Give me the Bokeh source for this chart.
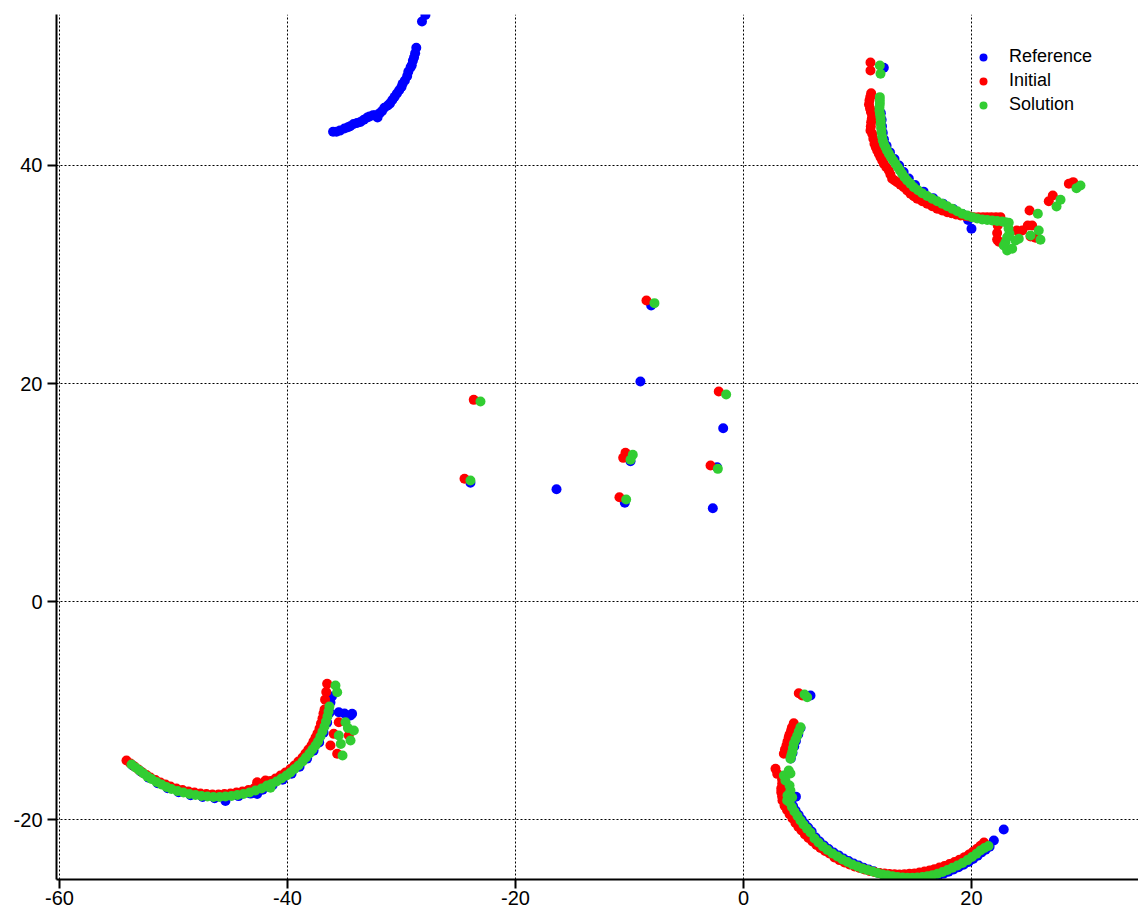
from bokeh.plotting import figure
from bokeh.models import Range1d, Legend, LegendItem, FixedTicker
from bokeh.embed import file_html
from bokeh.resources import INLINE

# ---------------------------------------------------------------------------
# Point sets, as (x, y) pairs, grouped by series and by region of the plane
# ---------------------------------------------------------------------------

# Reference (blue)
ref_arc_nw = [(-27.9, 53.8), (-28.2, 53.2), (-28.7, 50.8), (-28.8, 50.3), (-28.9, 49.9),
              (-29.0, 49.6), (-29.1, 49.2), (-29.2, 49.0), (-29.4, 48.6), (-29.5, 48.2),
              (-29.7, 47.8), (-29.9, 47.5), (-30.0, 47.2), (-30.2, 46.9), (-30.4, 46.6),
              (-30.6, 46.3), (-30.8, 46.0), (-31.0, 45.7), (-31.2, 45.5), (-31.5, 45.3),
              (-31.7, 45.0), (-31.9, 44.8), (-32.1, 44.4), (-32.3, 44.6), (-32.5, 44.6),
              (-32.8, 44.5), (-33.0, 44.4), (-33.3, 44.2), (-33.6, 44.0), (-33.9, 43.9),
              (-34.2, 43.8), (-34.5, 43.6), (-34.7, 43.5), (-35.0, 43.4), (-35.4, 43.2),
              (-35.7, 43.1), (-36.0, 43.1)]
ref_arc_ne = [(12.31, 48.96), (12.05, 44.8), (12.12, 44.2), (12.15, 43.6), (12.22, 43.0),
              (12.32, 42.4), (12.55, 41.8), (12.85, 41.2), (13.25, 40.6), (13.65, 40.0),
              (14.05, 39.4), (14.5, 38.8), (15.05, 38.2), (15.8, 37.6), (16.65, 37.0),
              (17.5, 36.5), (18.4, 36.0), (19.2, 35.55), (19.7, 35.0), (20.0, 34.2)]
ref_center = [(-8.10, 27.16), (-9.04, 20.18), (-1.78, 15.90), (-9.91, 12.87), (-2.31, 12.32),
              (-23.95, 10.89), (-16.40, 10.30), (-10.41, 9.06), (-2.69, 8.56)]
ref_arc_sw = [(-53.58, -15.05), (-52.88, -15.60), (-52.18, -16.16), (-51.39, -16.66),
              (-50.51, -17.12), (-49.55, -17.49), (-48.50, -17.76), (-47.44, -17.94),
              (-46.39, -18.04), (-45.44, -18.30), (-44.29, -17.85), (-43.23, -17.62),
              (-42.66, -17.65), (-42.18, -17.26), (-41.30, -16.84), (-40.43, -16.34),
              (-39.64, -15.79), (-38.94, -15.15), (-38.28, -14.41), (-37.71, -13.68),
              (-37.22, -12.94), (-36.83, -12.03), (-36.52, -11.11), (-36.30, -10.19),
              (-36.23, -9.27), (-36.10, -8.72),
              (-35.50, -10.16), (-35.00, -10.28), (-34.47, -10.46), (-34.33, -10.30)]
ref_arc_se = [(5.88, -8.62), (5.00, -11.6), (4.80, -12.2), (4.60, -12.8), (4.45, -13.3),
              (4.30, -13.9), (4.15, -14.4), (4.60, -17.90),
              (4.15, -18.30), (4.35, -18.75), (4.57, -19.17), (4.84, -19.58), (5.10, -19.99),
              (5.36, -20.36), (5.67, -20.73), (5.98, -21.09), (6.33, -21.64), (6.68, -22.01),
              (7.07, -22.38), (7.47, -22.70), (7.91, -23.02), (8.35, -23.29), (8.78, -23.57),
              (9.22, -23.80), (9.66, -24.03), (10.10, -24.21), (10.54, -24.42), (10.98, -24.58),
              (11.42, -24.74), (11.85, -24.90), (12.29, -25.03), (12.73, -25.14), (13.17, -25.24),
              (13.61, -25.32), (14.05, -25.37), (14.49, -25.40), (14.92, -25.41), (15.36, -25.40),
              (15.80, -25.37), (16.24, -25.31), (16.68, -25.22), (17.12, -25.10), (17.56, -24.96),
              (17.99, -24.78), (18.43, -24.59), (18.87, -24.38), (19.31, -24.15), (19.75, -23.89),
              (20.14, -23.61), (20.54, -23.31), (20.89, -23.01), (21.24, -22.76), (21.59, -22.50),
              (21.96, -21.93), (22.83, -20.92)]

# Initial (red)
init_arc_ne = [(11.14, 49.45), (11.14, 48.72),
               (11.20, 46.63), (11.12, 46.28), (11.05, 45.96), (11.01, 45.60), (11.10, 45.23),
               (11.18, 44.91), (11.29, 44.59), (11.25, 44.27), (11.20, 43.97), (11.17, 43.58),
               (11.14, 43.21), (11.29, 42.91), (11.39, 42.45), (11.49, 41.99), (11.61, 41.68),
               (11.73, 41.38), (11.87, 41.07), (12.02, 40.76), (12.17, 40.46), (12.31, 40.16),
               (12.53, 39.84), (12.75, 39.54), (12.89, 39.17), (13.04, 38.78), (13.26, 38.62),
               (13.48, 38.47), (13.77, 38.24), (14.06, 38.01), (14.36, 37.71), (14.65, 37.40),
               (14.94, 37.17), (15.24, 36.94), (15.68, 36.72), (16.11, 36.49), (16.55, 36.26),
               (16.99, 36.03), (17.43, 35.87), (17.87, 35.72), (18.25, 35.61), (18.64, 35.50),
               (19.04, 35.41), (19.43, 35.36), (19.82, 35.31), (20.20, 35.26), (20.61, 35.26),
               (21.01, 35.26), (21.38, 35.26), (21.75, 35.26), (22.15, 35.26), (22.54, 35.26),
               (22.30, 34.50), (22.25, 33.80), (22.25, 33.20), (22.40, 33.00),
               (23.97, 34.04), (24.45, 34.04), (24.94, 34.50), (25.32, 34.50), (25.61, 33.37),
               (25.18, 33.49), (25.09, 35.87), (26.78, 36.72), (27.13, 37.25), (28.54, 38.32),
               (28.92, 38.47)]
init_center = [(-8.51, 27.61), (-2.17, 19.27), (-23.66, 18.50), (-10.35, 13.64),
               (-10.55, 13.18), (-2.89, 12.48), (-24.47, 11.26), (-10.88, 9.57)]
init_arc_sw = [(-54.12, -14.59), (-53.77, -14.86), (-53.42, -15.14), (-53.07, -15.41),
               (-52.72, -15.69), (-52.37, -15.92), (-52.02, -16.15), (-51.58, -16.38),
               (-51.14, -16.61), (-50.70, -16.79), (-50.26, -16.97), (-49.74, -17.16),
               (-49.21, -17.29), (-48.68, -17.43), (-48.16, -17.52), (-47.63, -17.61),
               (-47.11, -17.66), (-46.58, -17.71), (-46.05, -17.71), (-45.53, -17.66),
               (-45.00, -17.61), (-44.47, -17.52), (-43.95, -17.43), (-43.42, -17.29),
               (-42.89, -17.11), (-42.66, -16.58), (-42.37, -16.88), (-41.93, -16.42),
               (-41.93, -16.70), (-41.49, -16.47), (-41.05, -16.24), (-40.61, -15.96),
               (-40.18, -15.69), (-39.74, -15.37), (-39.39, -15.05), (-39.04, -14.68),
               (-38.68, -14.31), (-38.42, -13.94), (-38.16, -13.58), (-37.89, -13.21),
               (-37.72, -12.84), (-37.54, -12.48), (-37.37, -12.11), (-37.19, -11.65),
               (-37.06, -11.19), (-36.93, -10.73), (-36.84, -10.28), (-36.75, -9.91),
               (-36.70, -9.00), (-36.60, -8.30), (-36.52, -7.55),
               (-35.50, -11.07), (-35.94, -12.14), (-34.62, -12.29), (-36.23, -13.21),
               (-35.64, -13.97)]
init_arc_se = [(4.85, -8.41), (5.15, -8.62),
               (4.41, -11.17), (4.25, -11.56), (4.18, -11.83), (4.04, -12.20), (3.97, -12.45),
               (3.86, -12.84), (3.77, -13.21), (3.64, -13.58), (3.54, -13.97),
               (2.81, -15.35), (2.96, -15.81), (3.39, -16.33), (3.39, -16.72), (3.31, -17.16),
               (3.31, -17.50), (3.39, -17.89),
               (3.42, -18.26), (3.60, -18.72), (3.82, -19.13), (4.04, -19.50), (4.30, -19.91),
               (4.56, -20.32), (4.82, -20.69), (5.09, -21.01), (5.39, -21.38), (5.70, -21.70),
               (6.05, -22.02), (6.40, -22.34), (6.75, -22.61), (7.15, -22.89), (7.54, -23.12),
               (7.98, -23.49), (8.42, -23.72), (8.86, -23.94), (9.30, -24.13), (9.74, -24.31),
               (10.18, -24.45), (10.61, -24.59), (11.05, -24.72), (11.49, -24.82), (11.93, -24.91),
               (12.37, -24.95), (12.81, -25.00), (13.25, -25.02), (13.68, -25.03), (14.12, -25.01),
               (14.56, -24.98), (15.00, -24.94), (15.44, -24.86), (15.88, -24.77), (16.32, -24.67),
               (16.75, -24.55), (17.19, -24.41), (17.63, -24.26), (18.07, -24.08), (18.51, -23.89),
               (18.95, -23.68), (19.39, -23.45), (19.78, -23.21), (20.13, -22.96), (20.48, -22.69),
               (20.79, -22.41), (21.10, -22.11)]

# Solution (green)
sol_arc_ne = [(11.96, 49.17), (12.02, 48.41),
              (11.96, 46.27), (11.96, 45.96), (11.96, 45.66), (11.93, 45.37), (11.93, 45.05),
              (11.97, 44.72), (12.02, 44.43), (12.04, 44.13), (12.04, 43.83), (12.07, 43.44),
              (12.11, 43.06), (12.16, 42.66), (12.22, 42.29), (12.32, 41.97), (12.46, 41.68),
              (12.59, 41.38), (12.75, 41.07), (12.94, 40.76), (13.13, 40.46), (13.33, 40.16),
              (13.54, 39.84), (13.73, 39.54), (13.92, 39.24), (14.12, 38.93), (14.36, 38.62),
              (14.65, 38.32), (14.94, 38.01), (15.31, 37.73), (15.68, 37.46), (16.11, 37.20),
              (16.55, 36.94), (16.99, 36.72), (17.43, 36.49), (17.87, 36.26), (18.31, 36.03),
              (18.75, 35.80), (19.18, 35.57), (19.62, 35.41), (20.06, 35.26), (20.50, 35.14),
              (20.94, 35.05), (21.38, 35.00), (21.82, 34.95), (22.25, 34.91), (22.69, 34.86),
              (22.98, 34.80), (23.27, 34.74),
              (23.25, 34.22), (23.33, 33.76), (23.13, 33.42), (22.98, 32.96), (22.83, 32.66),
              (23.13, 32.20), (23.57, 32.36), (23.86, 33.12), (24.15, 33.28), (25.18, 33.58),
              (25.90, 34.04), (26.05, 33.18), (25.82, 35.57), (27.46, 36.24), (27.81, 36.85),
              (29.21, 37.92), (29.56, 38.17)]
sol_center = [(-7.81, 27.37), (-1.52, 18.99), (-23.07, 18.35), (-9.71, 13.46),
              (-9.91, 13.00), (-2.25, 12.17), (-23.95, 11.10), (-10.29, 9.36)]
sol_arc_sw = [(-53.68, -14.95), (-53.33, -15.23), (-52.98, -15.50), (-52.63, -15.78),
              (-52.28, -16.06), (-51.93, -16.28), (-51.49, -16.56), (-51.05, -16.79),
              (-50.61, -17.02), (-50.18, -17.20), (-49.65, -17.39), (-49.12, -17.52),
              (-48.60, -17.66), (-48.07, -17.75), (-47.54, -17.84), (-47.02, -17.89),
              (-46.49, -17.94), (-45.96, -17.94), (-45.44, -17.89), (-44.91, -17.84),
              (-44.39, -17.75), (-43.86, -17.66), (-43.33, -17.52), (-42.81, -17.34),
              (-42.28, -17.16), (-41.84, -16.97), (-41.78, -16.88), (-41.49, -17.09),
              (-41.40, -16.74), (-40.96, -16.51), (-40.53, -16.24), (-40.09, -15.96),
              (-39.74, -15.69), (-39.39, -15.37), (-39.04, -15.05), (-38.68, -14.68),
              (-38.38, -14.31), (-38.07, -13.94), (-37.81, -13.58), (-37.54, -13.21),
              (-37.32, -12.84), (-37.11, -12.39), (-36.93, -11.93), (-36.75, -11.47),
              (-36.62, -11.01), (-36.49, -10.55), (-36.40, -10.09), (-36.32, -9.63),
              (-35.79, -7.71), (-35.64, -8.32),
              (-34.91, -11.07), (-34.18, -11.83), (-34.47, -12.75), (-35.50, -12.29),
              (-35.32, -13.06), (-35.17, -14.13), (-34.70, -11.60)]
sol_arc_se = [(5.35, -8.53), (5.59, -8.78),
              (5.00, -11.53), (4.85, -11.92), (4.71, -12.31), (4.56, -12.68), (4.41, -13.05),
              (4.34, -13.44), (4.27, -13.82), (4.19, -14.13), (4.12, -14.43),
              (3.97, -15.50), (3.54, -15.96), (4.12, -15.78), (3.68, -16.42), (4.04, -16.88),
              (4.12, -17.34), (3.86, -17.80), (4.27, -17.95), (3.83, -18.26),
              (4.04, -18.40), (4.25, -18.85), (4.47, -19.27), (4.74, -19.68), (5.00, -20.09),
              (5.26, -20.46), (5.57, -20.83), (5.88, -21.19), (6.23, -21.74), (6.58, -22.11),
              (6.97, -22.48), (7.37, -22.80), (7.81, -23.12), (8.25, -23.39), (8.68, -23.67),
              (9.12, -23.90), (9.56, -24.13), (10.00, -24.31), (10.44, -24.50), (10.88, -24.63),
              (11.32, -24.77), (11.75, -24.91), (12.19, -25.03), (12.63, -25.12), (13.07, -25.21),
              (13.51, -25.28), (13.95, -25.32), (14.39, -25.34), (14.82, -25.34), (15.26, -25.32),
              (15.70, -25.28), (16.14, -25.20), (16.58, -25.10), (17.02, -24.97), (17.46, -24.82),
              (17.89, -24.63), (18.33, -24.43), (18.77, -24.22), (19.21, -23.99), (19.65, -23.72),
              (20.04, -23.44), (20.44, -23.14), (20.79, -22.84), (21.14, -22.61), (21.49, -22.43)]

x_ticks = [-60, -40, -20, 0, 20]
y_ticks = [-20, 0, 20, 40]

series = [
    ("Reference", "#0000FF", [ref_arc_nw, ref_arc_ne, ref_center, ref_arc_sw, ref_arc_se]),
    ("Initial", "#FF0000", [init_arc_ne, init_center, init_arc_sw, init_arc_se]),
    ("Solution", "#32CD32", [sol_arc_ne, sol_center, sol_arc_sw, sol_arc_se]),
]


def split_xy(groups):
    pts = [pt for g in groups for pt in g]
    return [pt[0] for pt in pts], [pt[1] for pt in pts]


p = figure(width=1138, height=913,
           x_range=Range1d(-60.26, 34.65), y_range=Range1d(-25.5, 53.85),
           output_backend="svg", toolbar_location=None,
           min_border_left=56, min_border_right=0, min_border_top=14, min_border_bottom=34)

p.outline_line_color = None
p.background_fill_color = "white"
p.border_fill_color = "white"

p.xaxis.ticker = FixedTicker(ticks=x_ticks)
p.yaxis.ticker = FixedTicker(ticks=y_ticks)
p.xaxis.major_label_overrides = {t: str(t) for t in x_ticks}
p.yaxis.major_label_overrides = {t: str(t) for t in y_ticks}

for ax in (p.xaxis[0], p.yaxis[0]):
    ax.axis_line_color = "black"
    ax.axis_line_width = 2
    ax.major_tick_line_color = "black"
    ax.major_tick_line_width = 2
    ax.major_tick_in = 0
    ax.major_tick_out = 9
    ax.minor_tick_line_color = None
    ax.major_label_text_font = "Liberation Sans"
    ax.major_label_text_font_size = "20px"
    ax.major_label_text_color = "black"

p.xaxis.major_label_standoff = 2
p.yaxis.major_label_standoff = 5

p.grid.grid_line_color = "black"
p.grid.grid_line_width = 1
p.grid.grid_line_dash = "2 2"

renderers = []
for name, color, groups in series:
    xs, ys = split_xy(groups)
    r = p.scatter(xs, ys, marker="circle", size=10, fill_color=color, line_color=None)
    renderers.append((name, r))

legend = Legend(items=[LegendItem(label=n, renderers=[r]) for n, r in renderers],
                location=(917, 764), orientation="vertical",
                padding=10, spacing=3, margin=0,
                glyph_width=20, glyph_height=20, label_height=20, label_standoff=16,
                border_line_color=None, background_fill_color="white", background_fill_alpha=1.0,
                label_text_font="Liberation Sans", label_text_font_size="18px",
                label_text_color="black")
p.add_layout(legend)

open("out.html", "w").write(file_html(p, INLINE))
